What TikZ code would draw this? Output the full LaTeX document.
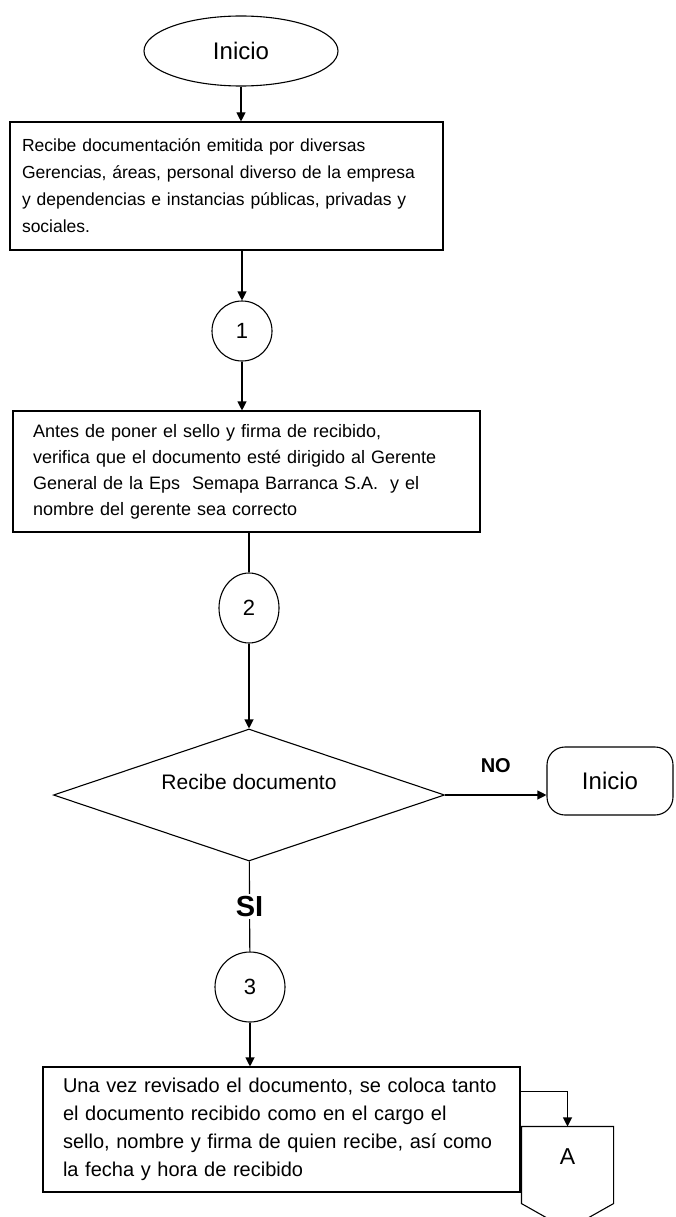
\documentclass[tikz,border=0pt]{standalone}
\usepackage{fontspec}
\setmainfont{Liberation Sans}
\usetikzlibrary{shapes.geometric,arrows.meta}

\begin{document}
\begin{tikzpicture}[x=1pt, y=-1pt, line width=1.1pt, >={Triangle[length=9pt,width=9pt]},
	term/.style = {draw, ellipse, minimum width=194pt, minimum height=70pt, font=\fontsize{24}{24}\selectfont},
	proc/.style = {draw, rectangle, align=left, inner ysep=0pt},
	conn/.style = {draw, circle, inner sep=0pt, font=\fontsize{22}{22}\selectfont},
	decide/.style = {draw, diamond, minimum width=391pt, minimum height=132pt, inner sep=0pt}]
	\useasboundingbox (0,0) rectangle (675,1217);

	\node[term] (start) at (241,51) {Inicio};

	\node[proc, minimum width=433pt, minimum height=128pt, inner xsep=12pt, text width=409pt,
		font=\fontsize{17.5}{27}\selectfont] (recibe) at (226.5,186)
		{Recibe documentación emitida por diversas\\
		Gerencias, áreas, personal diverso de la empresa\\
		y dependencias e instancias públicas, privadas y\\
		sociales.};

	\node[conn, minimum size=60pt] (c1) at (242,331) {1};

	\node[proc, minimum width=467pt, minimum height=121pt, inner xsep=20pt, text width=427pt,
		font=\fontsize{18}{26}\selectfont] (verifica) at (246.5,471.5)
		{Antes de poner el sello y firma de recibido,\\
		verifica que el documento esté dirigido al Gerente\\
		General de la Eps \ Semapa Barranca S.A. \ y el\\
		nombre del gerente sea correcto};

	\node[conn, ellipse, minimum width=60pt, minimum height=70pt] (c2) at (249,608) {2};

	\node[decide, label={[yshift=13pt, font=\fontsize{21}{21}\selectfont]center:Recibe documento}] (dec) at (249,795) {};

	\node[draw, rounded corners=18pt, minimum width=126pt, minimum height=68pt,
		font=\fontsize{24}{24}\selectfont] (fin) at (610,781) {Inicio};

	\node[conn, minimum size=70pt] (c3) at (250,987) {3};

	\node[proc, minimum width=477pt, minimum height=125pt, inner xsep=20pt, text width=437pt,
		font=\fontsize{20}{28}\selectfont] (sello) at (281.5,1129.5)
		{Una vez revisado el documento, se coloca tanto\\
		el documento recibido como en el cargo el\\
		sello, nombre y firma de quien recibe, así como\\
		la fecha y hora de recibido};

	% conector fuera de pagina
	\node[minimum width=91pt, minimum height=76pt, inner sep=0pt,
		label={[yshift=8pt, font=\fontsize{23}{23}\selectfont]center:A}] (pagA) at (567.5,1165) {};
	\draw (pagA.north west) -- (pagA.north east) -- (pagA.south east)
		-- ([yshift=-26pt]pagA.south) -- (pagA.south west) -- cycle;

	% conectores
	\draw[->] (start.south) -- (start.south |- recibe.north);
	\draw[->] (c1 |- recibe.south) -- (c1);
	\draw[->] (c1) -- (c1 |- verifica.north);
	\draw[line width=2.4pt] (c2 |- verifica.south) -- (c2);
	\draw[->] (c2) -- (dec);
	\draw[->] (dec.east) -- (dec.east -| fin.west) node[midway, above=18pt, font=\bfseries\fontsize{20}{20}\selectfont] {NO};
	\draw (dec) -- node[fill=white, inner sep=2pt, font=\bfseries\fontsize{29}{29}\selectfont] {SI} (c3);
	\draw[->] (c3) -- (c3 |- sello.north);
	\draw[->] ([yshift=-25pt]sello.north east) -| (pagA.north);

\end{tikzpicture}
\end{document}
